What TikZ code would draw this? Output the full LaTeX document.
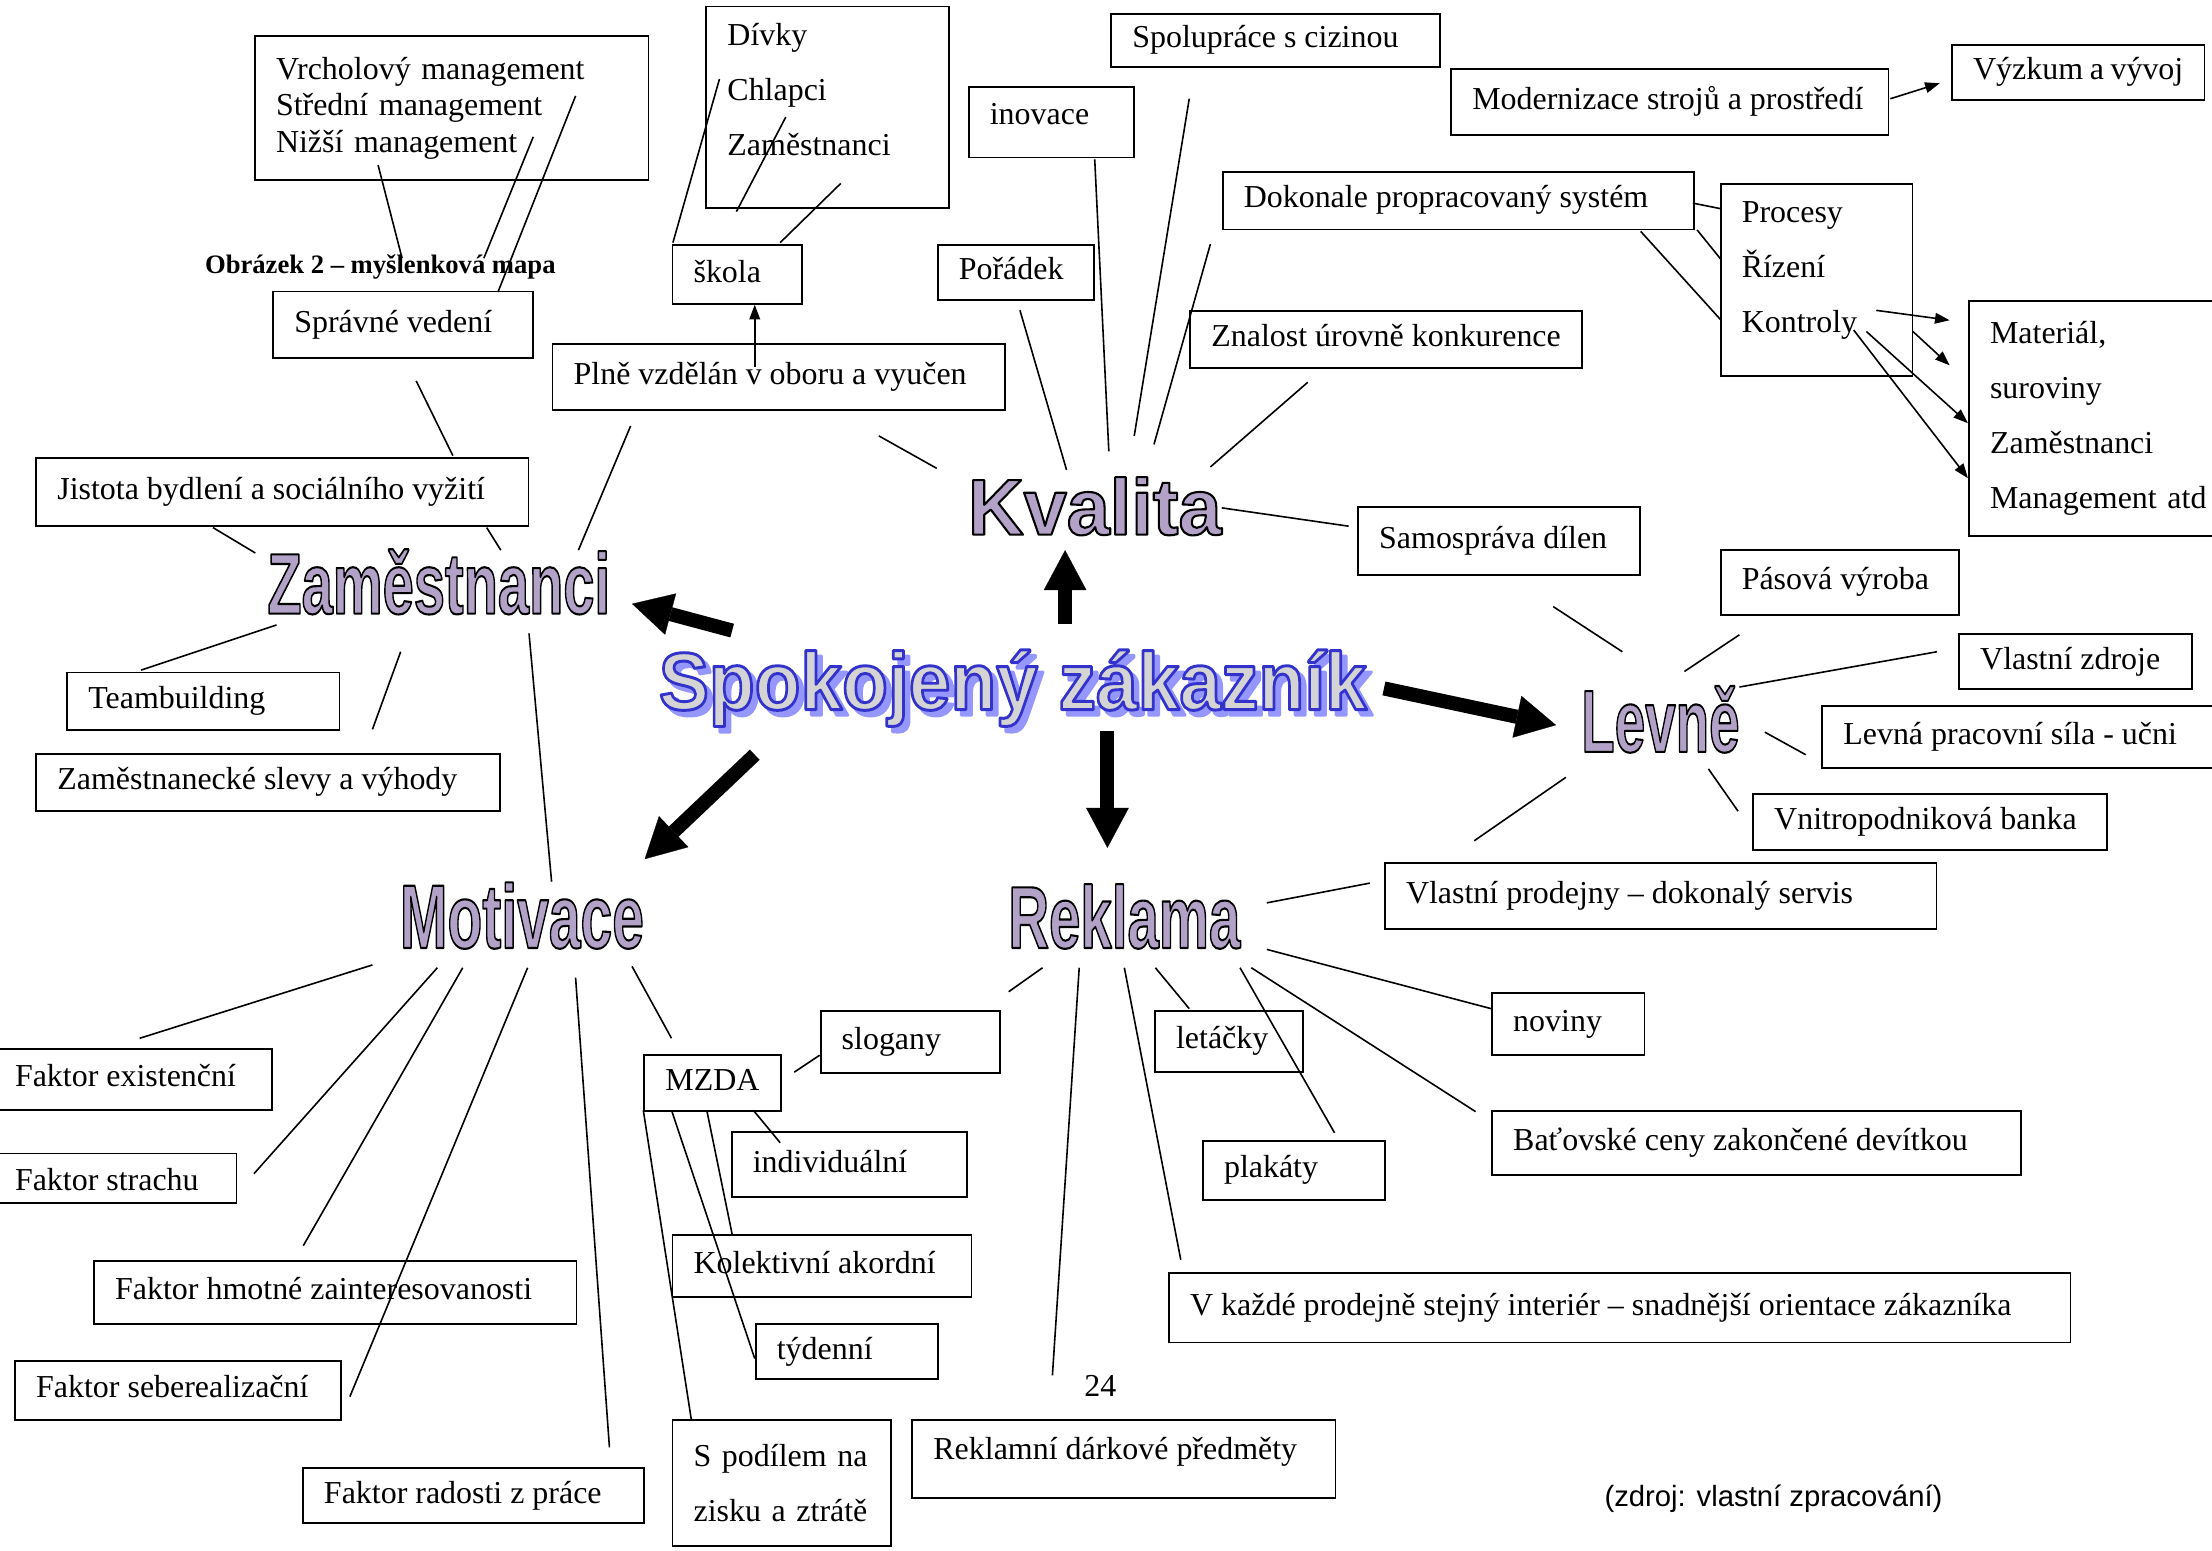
\documentclass[tikz,border=0pt]{standalone}
\usepackage{fontspec}
\setmainfont{Liberation Serif}
\newfontfamily\wordfont{Liberation Sans}
\usetikzlibrary{arrows.meta}

\definecolor{wordlav}{RGB}{178,162,199}
\definecolor{spokgray}{RGB}{212,212,212}
\definecolor{spokblue}{RGB}{51,51,204}
\definecolor{spokshadow}{RGB}{150,150,255}

\newcommand{\pxu}{0.53pt}
% fill colour, stroke rgb, stroke width, text
\newcommand{\outlinetext}[4]{\textcolor{#1}{\special{pdf:literal direct #2 RG #3 w 1 j 2 Tr}#4\special{pdf:literal direct 0 Tr}}}
\newcommand{\wordart}[3]{{\wordfont\bfseries\fontsize{#1}{#1}\selectfont\scalebox{#2}[1]{\outlinetext{wordlav}{0 0 0}{0.8}{#3}}}}

\tikzset{
  box/.style={draw, line width=0.7pt, anchor=north west, inner xsep=7.95pt, inner ysep=0pt,
    text height=8.3pt, text depth=2.7pt},
  bsize/.code 2 args={\pgfmathsetlengthmacro\bxw{(#1-30)*\pxu}\pgfmathsetlengthmacro\bxh{#2*\pxu}%
    \edef\bxopts{\noexpand\tikzset{minimum height=\bxh,
      execute at begin node={\noexpand\hbox to \bxw\noexpand\bgroup},
      execute at end node={\noexpand\hfil\noexpand\egroup}}}\bxopts},
  msize/.code 2 args={\pgfmathsetlengthmacro\bxw{(#1-30)*\pxu}\pgfmathsetlengthmacro\bxh{#2*\pxu}%
    \edef\bxopts{\noexpand\tikzset{text width=\bxw, minimum height=\bxh, align=left,
      text height=, text depth=}}\bxopts},
  spaced/.style={font=\fontsize{12}{20.6}\selectfont},
  link/.style={line width=0.6pt},
  arr/.style={line width=0.6pt, -{Triangle[length=5.5pt,width=4pt]}},
  bigarrow/.style={line width=5.3pt, -{Triangle[length=15pt,width=16pt,line width=0.1pt]}},
  bigword/.style={inner sep=0pt, anchor=base}
}

\begin{document}
\begin{tikzpicture}[x=\pxu, y=-\pxu, font=\fontsize{12}{14}\selectfont]
\useasboundingbox (0,0) rectangle (1568,1099);

% boxes, top
\node[box, msize={279}{102}, font=\fontsize{12}{13.8}\selectfont] (mgmt) at (180,25) {Vrcholový management\\Střední management\\Nižší management};
\node[box, msize={172}{143}, spaced, text depth=55pt] (divky) at (500,4) {Dívky\\Chlapci\\Zaměstnanci};
\node[box, bsize={233}{38}] (spol) at (787,9) {Spolupráce s cizinou};
\node[box, bsize={117}{50}, text depth=6.9pt] (inov) at (686,61) {inovace};
\node[box, bsize={310}{47}] (modern) at (1028,48) {Modernizace strojů a prostředí};
\node[box, bsize={179}{39}] (vyzkum) at (1383,31) {Výzkum a vývoj};
\node[box, bsize={334}{41}] (dokon) at (866,121) {Dokonale propracovaný systém};
\node[box, msize={136}{136}, spaced, text depth=51pt] (proc) at (1219,130) {Procesy\\Řízení\\Kontroly};
\node[box, msize={200}{166}, spaced] (mater) at (1395,213) {Materiál,\\suroviny\\Zaměstnanci\\Management atd};
\node[box, bsize={111}{39}] (poradek) at (664,173) {Pořádek};
\node[box, bsize={92}{42}] (skola) at (476,173) {škola};
\node[box, bsize={278}{40}] (znal) at (843,220) {Znalost úrovně konkurence};
\node[box, bsize={184}{47}] (sprav) at (193,206) {Správné vedení};
\node[box, bsize={321}{47}] (plne) at (391,243) {Plně vzdělán v oboru a vyučen};
\node[box, bsize={349}{48}] (jist) at (25,324) {Jistota bydlení a sociálního vyžití};
\node[box, bsize={200}{48}] (samos) at (962,359) {Samospráva dílen};
% boxes, middle
\node[box, bsize={169}{46}] (pasova) at (1219,389) {Pásová výroba};
\node[box, bsize={165}{39}] (vlzdr) at (1388,449) {Vlastní zdroje};
\node[box, bsize={193}{41}] (team) at (47,476) {Teambuilding};
\node[box, bsize={329}{40}] (slevy) at (25,534) {Zaměstnanecké slevy a výhody};
\node[box, bsize={300}{44}] (levna) at (1291,500) {Levná pracovní síla - učni};
\node[box, bsize={251}{40}] (banka) at (1242,562) {Vnitropodniková banka};
\node[box, bsize={391}{47}] (prodej) at (981,611) {Vlastní prodejny – dokonalý servis};
% boxes, bottom
\node[box, bsize={108}{44}] (noviny) at (1057,703) {noviny};
\node[box, bsize={127}{44}] (slog) at (581,716) {slogany};
\node[box, bsize={97}{40}] (mzda) at (456,747) {MZDA};
\node[box, bsize={105}{43}] (letak) at (818,716) {letáčky};
\node[box, bsize={197}{43}] (fexist) at (-5,743) {Faktor existenční};
\node[box, bsize={167}{46}] (indiv) at (518,802) {individuální};
\node[box, bsize={375}{45}] (bata) at (1057,787) {Baťovské ceny zakončené devítkou};
\node[box, bsize={172}{35}, text height=12pt] (fstrach) at (-5,817) {Faktor strachu};
\node[box, bsize={129}{42}] (plakaty) at (852,808) {plakáty};
\node[box, bsize={212}{44}] (kolekt) at (476,875) {Kolektivní akordní};
\node[box, bsize={342}{45}] (fhmot) at (66,893) {Faktor hmotné zainteresovanosti};
\node[box, bsize={639}{49}] (vkazde) at (828,902) {V každé prodejně stejný interiér – snadnější orientace zákazníka};
\node[box, bsize={129}{39}] (tyden) at (535,938) {týdenní};
\node[box, bsize={231}{42}] (fseber) at (10,964) {Faktor seberealizační};
\node[box, msize={155}{89}, spaced] (podil) at (476,1006) {S podílem na\\zisku a ztrátě};
\node[box, bsize={300}{55}, text depth=8pt] (darky) at (646,1006) {Reklamní dárkové předměty};
\node[box, bsize={242}{39}] (fradost) at (214,1040) {Faktor radosti z práce};

% free texts
\node[anchor=base west, inner sep=0pt, font=\bfseries\fontsize{10}{12}\selectfont] (caption) at (145,194) {Obrázek 2 – myšlenková mapa};
\node[anchor=base, inner sep=0pt] (pagenum) at (780,990) {24};
\node[anchor=base west, inner sep=0pt, font=\wordfont\fontsize{11}{13}\selectfont] (source) at (1137,1068) {(zdroj: vlastní zpracování)};

% big words
\node[bigword] (zam) at (311,435) {\wordart{32.4}{0.65}{Zaměstnanci}};
\node[bigword] (kval) at (776,379) {\wordart{29.8}{0.975}{Kvalita}};
\node[bigword] (levne) at (1177,533) {\wordart{33.2}{0.62}{Levně}};
\node[bigword] (rekl) at (797,672) {\wordart{33.1}{0.64}{Reklama}};
\node[bigword] (motiv) at (370,672) {\wordart{34}{0.63}{Motivace}};
\node[bigword] (spok) at (718,503) {\wordfont\bfseries\fontsize{30.6}{30.6}\selectfont\scalebox{0.92}[1]{%
  \rlap{\hspace{2.3pt}\raisebox{-2.1pt}{\outlinetext{spokshadow}{0.59 0.59 1}{1.1}{Spokojený zákazník}}}%
  \outlinetext{spokgray}{0.2 0.2 0.8}{1.1}{Spokojený zákazník}}};

% Zaměstnanci
\draw[link] ([shift={(88,92)}]mgmt.north west) -- ([shift={(92,-23)}]sprav.north west);
\draw[link] ([shift={(198,72)}]mgmt.north west) -- ([shift={(150,-23)}]sprav.north west);
\draw[link] ([shift={(228,43)}]mgmt.north west) -- ([shift={(160,1)}]sprav.north west);
\draw[link] ([shift={(102,64)}]sprav.north west) -- ([shift={(296,-1)}]jist.north west);
\draw[link] ([shift={(56,59)}]plne.north west) -- ([shift={(99,-45)}]zam.base);
\draw[link] ([shift={(126,50)}]jist.north west) -- ([shift={(-130,-43)}]zam.base);
\draw[link] ([shift={(320,50)}]jist.north west) -- ([shift={(44,-45)}]zam.base);
\draw[link] ([shift={(-115,8)}]zam.base) -- ([shift={(53,-1)}]team.north west);
\draw[link] ([shift={(-27,27)}]zam.base) -- ([shift={(239,-17)}]slevy.north west);
\draw[link] ([shift={(64,14)}]zam.base) -- ([shift={(21,-47)}]motiv.base);
% skola
\draw[link] ([shift={(1,-1)}]skola.north west) -- ([shift={(10,52)}]divky.north west);
\draw[link] ([shift={(46,-23)}]skola.north west) -- ([shift={(57,79)}]divky.north west);
\draw[link] ([shift={(77,-1)}]skola.north west) -- ([shift={(96,126)}]divky.north west);
\draw[arr] ([shift={(144,17)}]plne.north west) -- ([shift={(59,43)}]skola.north west);
% Kvalita
\draw[link] ([shift={(232,66)}]plne.north west) -- ([shift={(-112,-47)}]kval.base);
\draw[link] ([shift={(59,47)}]poradek.north west) -- ([shift={(-20,-46)}]kval.base);
\draw[link] ([shift={(90,52)}]inov.north west) -- ([shift={(10,-59)}]kval.base);
\draw[link] ([shift={(56,61)}]spol.north west) -- ([shift={(28,-70)}]kval.base);
\draw[link] ([shift={(-8,52)}]dokon.north west) -- ([shift={(42,-64)}]kval.base);
\draw[link] ([shift={(84,51)}]znal.north west) -- ([shift={(82,-48)}]kval.base);
\draw[link] ([shift={(90,-19)}]kval.base) -- ([shift={(-6,14)}]samos.north west);
\draw[link] ([shift={(334,23)}]dokon.north west) -- ([shift={(1,18)}]proc.north west);
\draw[link] ([shift={(337,42)}]dokon.north west) -- ([shift={(1,54)}]proc.north west);
\draw[link] ([shift={(297,43)}]dokon.north west) -- ([shift={(1,97)}]proc.north west);
\draw[arr] ([shift={(111,90)}]proc.north west) -- ([shift={(-13,14)}]mater.north west);
\draw[arr] ([shift={(137,105)}]proc.north west) -- ([shift={(-13,46)}]mater.north west);
\draw[arr] ([shift={(104,105)}]proc.north west) -- ([shift={(0,87)}]mater.north west);
\draw[arr] ([shift={(95,104)}]proc.north west) -- ([shift={(0,126)}]mater.north west);
\draw[arr] ([shift={(312,22)}]modern.north west) -- ([shift={(-8,28)}]vyzkum.north west);
% Levne
\draw[link] ([shift={(139,71)}]samos.north west) -- ([shift={(-27,-71)}]levne.base);
\draw[link] ([shift={(17,-57)}]levne.base) -- ([shift={(14,61)}]pasova.north west);
\draw[link] ([shift={(56,-46)}]levne.base) -- ([shift={(-15,13)}]vlzdr.north west);
\draw[link] ([shift={(74,-14)}]levne.base) -- ([shift={(-11,35)}]levna.north west);
\draw[link] ([shift={(34,12)}]levne.base) -- ([shift={(-10,13)}]banka.north west);
\draw[link] ([shift={(-67,18)}]levne.base) -- ([shift={(64,-15)}]prodej.north west);
% Reklama
\draw[link] ([shift={(101,-32)}]rekl.base) -- ([shift={(-10,15)}]prodej.north west);
\draw[link] ([shift={(101,1)}]rekl.base) -- ([shift={(0,12)}]noviny.north west);
\draw[link] ([shift={(90,14)}]rekl.base) -- ([shift={(-11,1)}]bata.north west);
\draw[link] ([shift={(82,14)}]rekl.base) -- ([shift={(94,-5)}]plakaty.north west);
\draw[link] ([shift={(22,14)}]rekl.base) -- ([shift={(25,-1)}]letak.north west);
\draw[link] ([shift={(0,14)}]rekl.base) -- ([shift={(9,-9)}]vkazde.north west);
\draw[link] ([shift={(-32,14)}]rekl.base) -- ([shift={(100,-31)}]darky.north west);
\draw[link] ([shift={(-58,14)}]rekl.base) -- ([shift={(134,-13)}]slog.north west);
% Motivace
\draw[link] ([shift={(-106,12)}]motiv.base) -- ([shift={(104,-7)}]fexist.north west);
\draw[link] ([shift={(-60,14)}]motiv.base) -- ([shift={(185,15)}]fstrach.north west);
\draw[link] ([shift={(-42,14)}]motiv.base) -- ([shift={(149,-10)}]fhmot.north west);
\draw[link] ([shift={(4,14)}]motiv.base) -- ([shift={(238,26)}]fseber.north west);
\draw[link] ([shift={(38,21)}]motiv.base) -- ([shift={(218,-14)}]fradost.north west);
\draw[link] ([shift={(78,13)}]motiv.base) -- ([shift={(20,-11)}]mzda.north west);
% MZDA
\draw[link] ([shift={(107,13)}]mzda.north west) -- ([shift={(0,32)}]slog.north west);
\draw[link] ([shift={(78,40)}]mzda.north west) -- ([shift={(35,8)}]indiv.north west);
\draw[link] ([shift={(45,40)}]mzda.north west) -- ([shift={(43,0)}]kolekt.north west);
\draw[link] ([shift={(20,40)}]mzda.north west) -- ([shift={(0,25)}]tyden.north west);
\draw[link] ([shift={(0,40)}]mzda.north west) -- ([shift={(14,0)}]podil.north west);

% block arrows
\draw[bigarrow] ([shift={(37,-61)}]spok.base) -- ([shift={(-21,11)}]kval.base);
\draw[bigarrow] ([shift={(-199,-56)}]spok.base) -- ([shift={(137,-7)}]zam.base);
\draw[bigarrow] ([shift={(263,-15)}]spok.base) -- ([shift={(-74,-19)}]levne.base);
\draw[bigarrow] ([shift={(67,15)}]spok.base) -- ([shift={(-12,-71)}]rekl.base);
\draw[bigarrow] ([shift={(-183,32)}]spok.base) -- ([shift={(87,-63)}]motiv.base);
\end{tikzpicture}
\end{document}
